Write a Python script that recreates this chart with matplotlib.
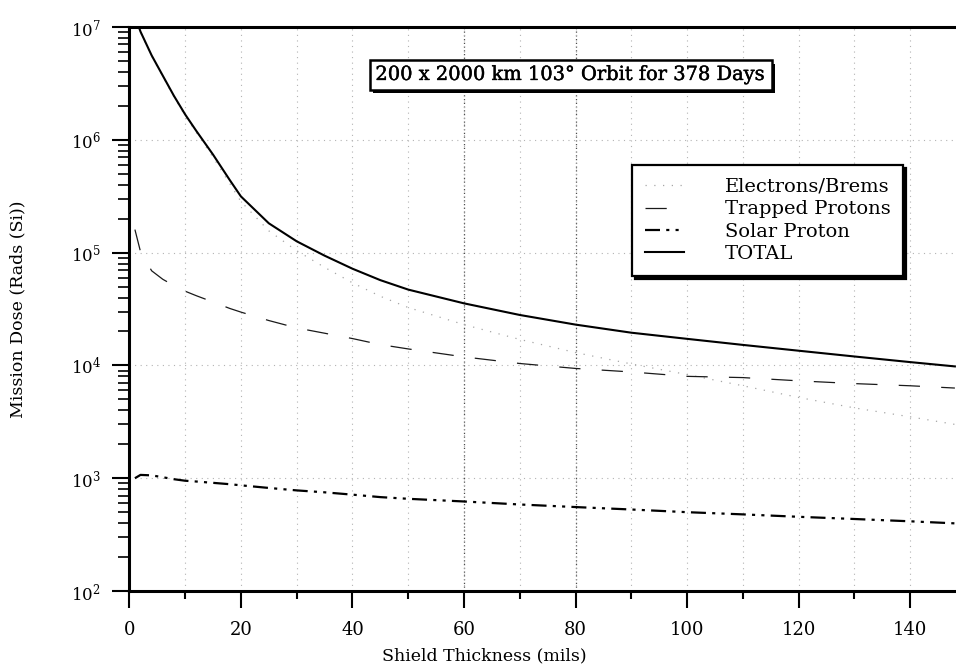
import matplotlib
matplotlib.use("Agg")
import matplotlib.pyplot as plt
import matplotlib.patheffects as pe
from matplotlib.ticker import MultipleLocator, LogLocator, LogFormatterMathtext, NullFormatter

plt.rcParams['font.family'] = ['DejaVu Serif']
plt.rcParams['mathtext.fontset'] = 'dejavuserif'

# shield thickness (mils) and dose (rads Si)
thickness = [1, 2, 4, 6, 8, 10, 12, 15, 18, 20, 25, 30, 35, 40, 45, 50,
             60, 70, 80, 90, 100, 110, 120, 130, 140, 148]
electrons = [1.23e7, 9.0e6, 5.5e6, 3.64e6, 2.4e6, 1.63e6, 1.16e6, 7.0e5, 4.1e5, 2.84e5,
             1.56e5, 1.04e5, 7.4e4, 5.4e4, 4.1e4, 3.26e4, 2.3e4, 1.7e4, 1.3e4, 1.03e4,
             8.3e3, 6.6e3, 5.2e3, 4.2e3, 3.5e3, 3.0e3]
trapped = [1.6e5, 1.02e5, 6.9e4, 5.8e4, 5.1e4, 4.55e4, 4.15e4, 3.65e4, 3.2e4, 2.97e4,
           2.5e4, 2.15e4, 1.93e4, 1.73e4, 1.53e4, 1.4e4, 1.19e4, 1.04e4, 9.4e3, 8.75e3,
           8.0e3, 7.8e3, 7.3e3, 6.9e3, 6.6e3, 6.3e3]
solar = [1000, 1070, 1060, 1020, 980, 950, 935, 910, 885, 865, 820, 780, 750, 715,
         680, 657, 622, 585, 555, 528, 500, 478, 455, 435, 415, 398]
total = [1.25e7, 9.1e6, 5.6e6, 3.7e6, 2.45e6, 1.68e6, 1.2e6, 7.4e5, 4.4e5, 3.15e5,
         1.82e5, 1.26e5, 9.4e4, 7.2e4, 5.7e4, 4.7e4, 3.55e4, 2.8e4, 2.3e4, 1.95e4,
         1.72e4, 1.52e4, 1.35e4, 1.2e4, 1.07e4, 9.8e3]

series_names = ['Electrons/Brems', 'Trapped Protons', 'Solar Proton', 'TOTAL']
title_text = "200 x 2000 km 103\u00b0 Orbit for 378 Days"
dark_grid = [60, 80]

fig = plt.figure(figsize=(9.56, 6.72), dpi=100)
ax = fig.add_axes([0.1353, 0.1205, 0.8647, 0.8393])

l1, = ax.plot(thickness, electrons, color='0.65', lw=0.9, dashes=(1, 6))
l2, = ax.plot(thickness, trapped, color='0.1', lw=0.9, dashes=(17, 17))
l3, = ax.plot(thickness, solar, color='k', lw=1.6, dashes=[6.75, 2.8, 1.4, 2.8, 1.4, 2.8])
l4, = ax.plot(thickness, total, color='k', lw=1.5)

ax.set_yscale('log')
ax.set_xlim(0, 148.2)
ax.set_ylim(1e2, 1e7)

ax.xaxis.set_major_locator(MultipleLocator(20))
ax.xaxis.set_minor_locator(MultipleLocator(10))
ax.yaxis.set_major_locator(LogLocator(base=10, numticks=10))
ax.yaxis.set_minor_locator(LogLocator(base=10, subs=range(2, 10), numticks=10))
ax.yaxis.set_major_formatter(LogFormatterMathtext())
ax.yaxis.set_minor_formatter(NullFormatter())

ax.tick_params(axis='x', which='major', direction='out', length=12.5, width=1.5, labelsize=13, pad=9)
ax.tick_params(axis='x', which='minor', direction='out', length=6, width=1.5)
ax.tick_params(axis='y', which='major', direction='out', length=12.5, width=1.5, labelsize=12, pad=8)
ax.tick_params(axis='y', which='minor', direction='out', length=8, width=1.2)

for s in ['left', 'bottom', 'top']:
    ax.spines[s].set_linewidth(2.2)
ax.spines['right'].set_visible(False)

ax.xaxis.grid(True, which='both', color='0.7', linestyle=(0, (1, 4)), lw=0.8)
ax.yaxis.grid(True, which='major', color='0.7', linestyle=(0, (1, 4)), lw=0.8)
for g in dark_grid:
    ax.axvline(g, color='0.3', linestyle=(0, (1, 2)), lw=0.9, zorder=1)

ax.set_xlabel('Shield Thickness (mils)', fontsize=12.5)
ax.set_ylabel('Mission Dose (Rads (Si))', fontsize=12.5)
ax.xaxis.set_label_coords(0.43, -0.10)
ax.yaxis.set_label_coords(-0.125, 0.5)

leg = ax.legend([l1, l2, l3, l4], series_names, loc='upper right',
                bbox_to_anchor=(0.936, 0.755), fontsize=14, fancybox=False,
                edgecolor='k', framealpha=1, borderaxespad=0, handlelength=2.0,
                handletextpad=2.1, labelspacing=0.23, borderpad=0.65,
                shadow={'color': 'k', 'alpha': 1})
leg.get_frame().set_linewidth(1.6)

t = ax.text(0.534, 0.915, title_text, transform=ax.transAxes, ha='center', va='center',
            fontsize=14, bbox=dict(boxstyle='square,pad=0.3', fc='white', ec='k', lw=1.8))
t.set_path_effects([pe.withStroke(linewidth=0.3, foreground='k')])
t.get_bbox_patch().set_path_effects([
    pe.SimplePatchShadow(offset=(2.5, -2.5), shadow_rgbFace='k', alpha=1),
    pe.Normal()])

fig.savefig('out.png', dpi=100)
